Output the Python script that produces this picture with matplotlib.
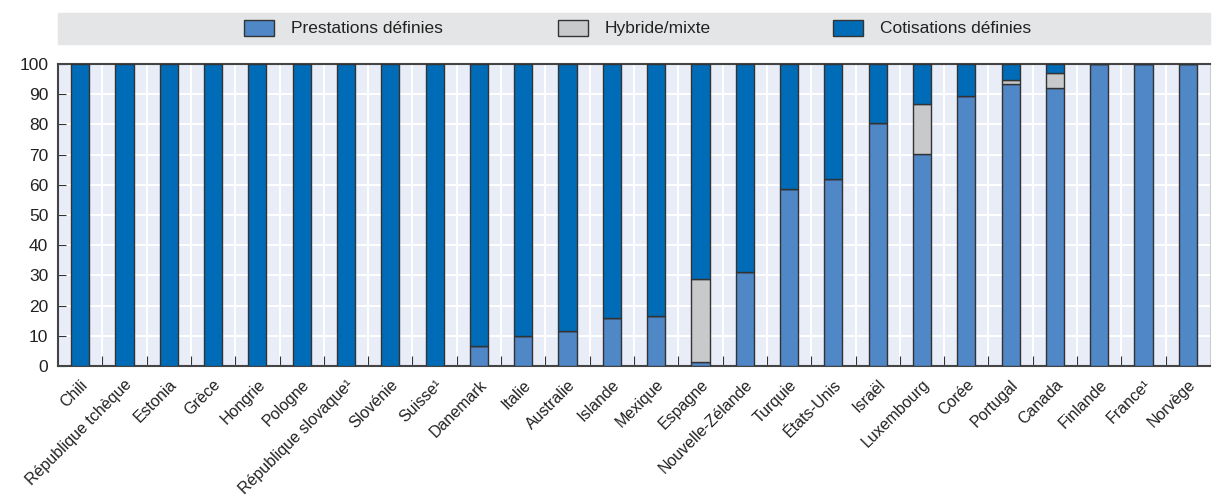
import matplotlib.pyplot as plt
from matplotlib.patches import Rectangle

plt.rcParams['font.family'] = ['Liberation Sans Narrow', 'Liberation Sans', 'DejaVu Sans']

pays = ["Chili", "République tchèque", "Estonia", "Grèce", "Hongrie", "Pologne",
        "République slovaque¹", "Slovénie", "Suisse¹", "Danemark", "Italie", "Australie",
        "Islande", "Mexique", "Espagne", "Nouvelle-Zélande", "Turquie", "États-Unis",
        "Israël", "Luxembourg", "Corée", "Portugal", "Canada", "Finlande", "France¹", "Norvège"]
prestations = [0, 0, 0, 0, 0, 0, 0, 0, 0, 6.5, 10, 11.5, 16, 16.5, 1.3, 31, 58.5, 62,
               80.5, 70.3, 89.5, 93.5, 92, 100, 100, 100]
hybride = [0, 0, 0, 0, 0, 0, 0, 0, 0, 0, 0, 0, 0, 0, 27.4, 0, 0, 0,
           0, 16.5, 0, 1.3, 5, 0, 0, 0]
cotisations = [100 - p - h for p, h in zip(prestations, hybride)]
series = ["Prestations définies", "Hybride/mixte", "Cotisations définies"]

c_db = "#4f87c7"
c_hy = "#c8c9ca"
c_dc = "#006bb6"

W, H = 1213, 504
fig = plt.figure(figsize=(W / 100, H / 100), dpi=100)
ax = fig.add_axes([58 / W, 1 - 366 / H, (1210 - 58) / W, (366 - 64) / H])
ax.set_facecolor("#e9edf7")

x = range(len(pays))
w = 0.41
kw = dict(width=w, edgecolor="#333333", linewidth=1.0, zorder=3)
ax.bar(x, prestations, color=c_db, **kw)
ax.bar(x, hybride, bottom=prestations, color=c_hy, **kw)
ax.bar(x, cotisations, bottom=[p + h for p, h in zip(prestations, hybride)], color=c_dc, **kw)

ax.set_xlim(-0.5, len(pays) - 0.5)
ax.set_ylim(0, 100)
ax.set_yticks(range(0, 101, 10))
ax.set_xticks([i + 0.5 for i in range(len(pays) - 1)])
ax.set_xticklabels([])
ax.set_xticks(list(x), minor=True)
ax.set_xticklabels(pays, minor=True, rotation=45, ha="right", rotation_mode="anchor",
                   fontsize=11.5, color="#222222")
ax.tick_params(axis="x", which="minor", length=0, pad=8)
ax.tick_params(axis="x", which="major", direction="in", length=7, color="#333333")
ax.tick_params(axis="y", direction="in", length=6, color="#333333", labelsize=12.5,
               labelcolor="#222222", pad=7)
ax.grid(True, which="major", color="white", linewidth=1.5, zorder=0)
ax.set_axisbelow(True)

for s in ["left", "bottom", "top"]:
    ax.spines[s].set_color("#444444")
    ax.spines[s].set_linewidth(1.5)
ax.spines["right"].set_color("#cccccc")

# bandeau de légende
fig.patches.append(Rectangle((58 / W, 1 - 44 / H), (1210 - 58) / W, 31 / H,
                             transform=fig.transFigure, color="#e4e5e6", zorder=0))
for lab, col, px in zip(series, [c_db, c_hy, c_dc], [244, 558, 833]):
    fig.patches.append(Rectangle((px / W, 1 - 36 / H), 30 / W, 16 / H,
                                 transform=fig.transFigure, facecolor=col,
                                 edgecolor="#333333", linewidth=1.0, zorder=1))
    fig.text((px + 47) / W, 1 - 28.5 / H, lab, fontsize=12.5, color="#222222",
             va="center", ha="left")

fig.savefig("out.png", dpi=100)
